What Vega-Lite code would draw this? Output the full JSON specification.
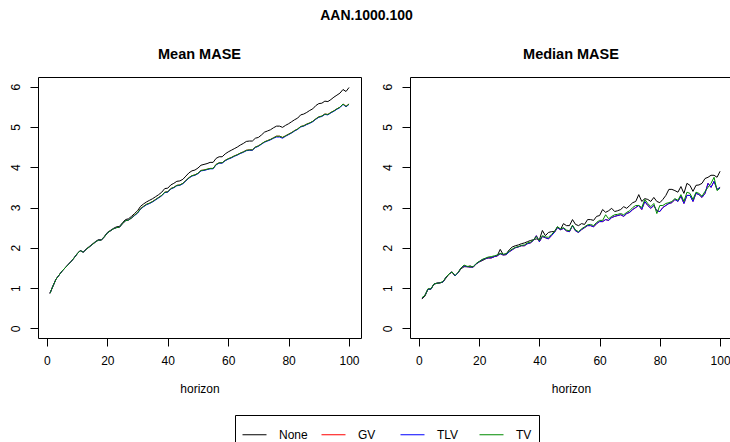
{
"$schema":"https://vega.github.io/schema/vega-lite/v6.json",
"background":"white",
"padding":{"left":0,"top":9,"right":0,"bottom":0},
"title":{"text":"AAN.1000.100","fontSize":14,"fontWeight":"bold","font":"Liberation Sans","anchor":"middle","baseline":"alphabetic","offset":12,"color":"black"},
"config":{
"font":"Liberation Sans",
"view":{"stroke":"black","strokeWidth":1},
"axis":{"domain":false,"grid":false,"ticks":true,"tickColor":"black","tickSize":8,"labelFontSize":12,"labelColor":"black","labelFont":"Liberation Sans","titleFont":"Liberation Sans","titleFontSize":12,"titleFontWeight":"normal","titleColor":"black","labelFlush":false,"labelOverlap":false},
"axisX":{"labelPadding":9,"titlePadding":17,"labelAngle":0,"labelBaseline":"top"},
"axisY":{"labelAngle":270,"labelAlign":"center","labelBaseline":"alphabetic","labelPadding":11,"minExtent":37,"maxExtent":37},
"legend":{"orient":"none","legendX":197,"legendY":338,"direction":"horizontal","columns":4,"symbolType":"stroke","symbolSize":576,"symbolStrokeWidth":1,"labelFontSize":12,"labelFont":"Liberation Sans","labelColor":"black","labelOffset":12,"columnPadding":11,"gridAlign":"all","strokeColor":"black","padding":7,"title":null}
},
"spacing":10,
"resolve":{"scale":{"color":"shared"}},
"datasets":{
"mean":[
{"h":1,"s":"None","v":0.87},{"h":2,"s":"None","v":1.05},{"h":3,"s":"None","v":1.22},{"h":4,"s":"None","v":1.32},{"h":5,"s":"None","v":1.42},{"h":6,"s":"None","v":1.5},{"h":7,"s":"None","v":1.58},{"h":8,"s":"None","v":1.66},{"h":9,"s":"None","v":1.75},{"h":10,"s":"None","v":1.85},
{"h":11,"s":"None","v":1.93},{"h":12,"s":"None","v":1.9},{"h":13,"s":"None","v":1.97},{"h":14,"s":"None","v":2.03},{"h":15,"s":"None","v":2.09},{"h":16,"s":"None","v":2.15},{"h":17,"s":"None","v":2.2},{"h":18,"s":"None","v":2.2},{"h":19,"s":"None","v":2.28},{"h":20,"s":"None","v":2.38},
{"h":21,"s":"None","v":2.43},{"h":22,"s":"None","v":2.48},{"h":23,"s":"None","v":2.52},{"h":24,"s":"None","v":2.53},{"h":25,"s":"None","v":2.62},{"h":26,"s":"None","v":2.7},{"h":27,"s":"None","v":2.72},{"h":28,"s":"None","v":2.78},{"h":29,"s":"None","v":2.85},{"h":30,"s":"None","v":2.92},
{"h":31,"s":"None","v":3.03},{"h":32,"s":"None","v":3.09},{"h":33,"s":"None","v":3.14},{"h":34,"s":"None","v":3.18},{"h":35,"s":"None","v":3.22},{"h":36,"s":"None","v":3.27},{"h":37,"s":"None","v":3.32},{"h":38,"s":"None","v":3.38},{"h":39,"s":"None","v":3.47},{"h":40,"s":"None","v":3.48},
{"h":41,"s":"None","v":3.56},{"h":42,"s":"None","v":3.6},{"h":43,"s":"None","v":3.65},{"h":44,"s":"None","v":3.66},{"h":45,"s":"None","v":3.7},{"h":46,"s":"None","v":3.78},{"h":47,"s":"None","v":3.86},{"h":48,"s":"None","v":3.91},{"h":49,"s":"None","v":3.93},{"h":50,"s":"None","v":3.98},
{"h":51,"s":"None","v":4.05},{"h":52,"s":"None","v":4.07},{"h":53,"s":"None","v":4.09},{"h":54,"s":"None","v":4.12},{"h":55,"s":"None","v":4.12},{"h":56,"s":"None","v":4.22},{"h":57,"s":"None","v":4.26},{"h":58,"s":"None","v":4.26},{"h":59,"s":"None","v":4.33},{"h":60,"s":"None","v":4.38},
{"h":61,"s":"None","v":4.42},{"h":62,"s":"None","v":4.46},{"h":63,"s":"None","v":4.5},{"h":64,"s":"None","v":4.55},{"h":65,"s":"None","v":4.59},{"h":66,"s":"None","v":4.64},{"h":67,"s":"None","v":4.65},{"h":68,"s":"None","v":4.65},{"h":69,"s":"None","v":4.72},{"h":70,"s":"None","v":4.74},
{"h":71,"s":"None","v":4.8},{"h":72,"s":"None","v":4.87},{"h":73,"s":"None","v":4.9},{"h":74,"s":"None","v":4.93},{"h":75,"s":"None","v":4.98},{"h":76,"s":"None","v":5.02},{"h":77,"s":"None","v":5.02},{"h":78,"s":"None","v":4.99},{"h":79,"s":"None","v":5.04},{"h":80,"s":"None","v":5.08},
{"h":81,"s":"None","v":5.13},{"h":82,"s":"None","v":5.18},{"h":83,"s":"None","v":5.22},{"h":84,"s":"None","v":5.3},{"h":85,"s":"None","v":5.32},{"h":86,"s":"None","v":5.36},{"h":87,"s":"None","v":5.41},{"h":88,"s":"None","v":5.45},{"h":89,"s":"None","v":5.53},{"h":90,"s":"None","v":5.58},
{"h":91,"s":"None","v":5.59},{"h":92,"s":"None","v":5.64},{"h":93,"s":"None","v":5.63},{"h":94,"s":"None","v":5.68},{"h":95,"s":"None","v":5.74},{"h":96,"s":"None","v":5.79},{"h":97,"s":"None","v":5.84},{"h":98,"s":"None","v":5.93},{"h":99,"s":"None","v":5.88},{"h":100,"s":"None","v":5.98},
{"h":1,"s":"GV","v":0.87},{"h":2,"s":"GV","v":1.05},{"h":3,"s":"GV","v":1.22},{"h":4,"s":"GV","v":1.32},{"h":5,"s":"GV","v":1.42},{"h":6,"s":"GV","v":1.5},{"h":7,"s":"GV","v":1.58},{"h":8,"s":"GV","v":1.66},{"h":9,"s":"GV","v":1.75},{"h":10,"s":"GV","v":1.85},
{"h":11,"s":"GV","v":1.93},{"h":12,"s":"GV","v":1.89},{"h":13,"s":"GV","v":1.96},{"h":14,"s":"GV","v":2.02},{"h":15,"s":"GV","v":2.08},{"h":16,"s":"GV","v":2.14},{"h":17,"s":"GV","v":2.19},{"h":18,"s":"GV","v":2.19},{"h":19,"s":"GV","v":2.27},{"h":20,"s":"GV","v":2.37},
{"h":21,"s":"GV","v":2.42},{"h":22,"s":"GV","v":2.47},{"h":23,"s":"GV","v":2.5},{"h":24,"s":"GV","v":2.51},{"h":25,"s":"GV","v":2.6},{"h":26,"s":"GV","v":2.67},{"h":27,"s":"GV","v":2.69},{"h":28,"s":"GV","v":2.74},{"h":29,"s":"GV","v":2.81},{"h":30,"s":"GV","v":2.87},
{"h":31,"s":"GV","v":2.97},{"h":32,"s":"GV","v":3.03},{"h":33,"s":"GV","v":3.08},{"h":34,"s":"GV","v":3.11},{"h":35,"s":"GV","v":3.15},{"h":36,"s":"GV","v":3.2},{"h":37,"s":"GV","v":3.25},{"h":38,"s":"GV","v":3.3},{"h":39,"s":"GV","v":3.38},{"h":40,"s":"GV","v":3.39},
{"h":41,"s":"GV","v":3.47},{"h":42,"s":"GV","v":3.5},{"h":43,"s":"GV","v":3.55},{"h":44,"s":"GV","v":3.56},{"h":45,"s":"GV","v":3.6},{"h":46,"s":"GV","v":3.67},{"h":47,"s":"GV","v":3.74},{"h":48,"s":"GV","v":3.79},{"h":49,"s":"GV","v":3.81},{"h":50,"s":"GV","v":3.85},
{"h":51,"s":"GV","v":3.92},{"h":52,"s":"GV","v":3.93},{"h":53,"s":"GV","v":3.95},{"h":54,"s":"GV","v":3.97},{"h":55,"s":"GV","v":3.97},{"h":56,"s":"GV","v":4.07},{"h":57,"s":"GV","v":4.11},{"h":58,"s":"GV","v":4.11},{"h":59,"s":"GV","v":4.17},{"h":60,"s":"GV","v":4.21},
{"h":61,"s":"GV","v":4.24},{"h":62,"s":"GV","v":4.28},{"h":63,"s":"GV","v":4.31},{"h":64,"s":"GV","v":4.35},{"h":65,"s":"GV","v":4.38},{"h":66,"s":"GV","v":4.42},{"h":67,"s":"GV","v":4.43},{"h":68,"s":"GV","v":4.43},{"h":69,"s":"GV","v":4.5},{"h":70,"s":"GV","v":4.53},
{"h":71,"s":"GV","v":4.58},{"h":72,"s":"GV","v":4.63},{"h":73,"s":"GV","v":4.66},{"h":74,"s":"GV","v":4.69},{"h":75,"s":"GV","v":4.73},{"h":76,"s":"GV","v":4.77},{"h":77,"s":"GV","v":4.77},{"h":78,"s":"GV","v":4.74},{"h":79,"s":"GV","v":4.78},{"h":80,"s":"GV","v":4.82},
{"h":81,"s":"GV","v":4.86},{"h":82,"s":"GV","v":4.91},{"h":83,"s":"GV","v":4.95},{"h":84,"s":"GV","v":5.01},{"h":85,"s":"GV","v":5.03},{"h":86,"s":"GV","v":5.07},{"h":87,"s":"GV","v":5.1},{"h":88,"s":"GV","v":5.14},{"h":89,"s":"GV","v":5.2},{"h":90,"s":"GV","v":5.25},
{"h":91,"s":"GV","v":5.27},{"h":92,"s":"GV","v":5.32},{"h":93,"s":"GV","v":5.31},{"h":94,"s":"GV","v":5.36},{"h":95,"s":"GV","v":5.4},{"h":96,"s":"GV","v":5.45},{"h":97,"s":"GV","v":5.49},{"h":98,"s":"GV","v":5.57},{"h":99,"s":"GV","v":5.51},{"h":100,"s":"GV","v":5.57},
{"h":1,"s":"TLV","v":0.87},{"h":2,"s":"TLV","v":1.05},{"h":3,"s":"TLV","v":1.22},{"h":4,"s":"TLV","v":1.32},{"h":5,"s":"TLV","v":1.42},{"h":6,"s":"TLV","v":1.5},{"h":7,"s":"TLV","v":1.58},{"h":8,"s":"TLV","v":1.66},{"h":9,"s":"TLV","v":1.75},{"h":10,"s":"TLV","v":1.85},
{"h":11,"s":"TLV","v":1.93},{"h":12,"s":"TLV","v":1.89},{"h":13,"s":"TLV","v":1.96},{"h":14,"s":"TLV","v":2.02},{"h":15,"s":"TLV","v":2.08},{"h":16,"s":"TLV","v":2.14},{"h":17,"s":"TLV","v":2.19},{"h":18,"s":"TLV","v":2.19},{"h":19,"s":"TLV","v":2.27},{"h":20,"s":"TLV","v":2.37},
{"h":21,"s":"TLV","v":2.42},{"h":22,"s":"TLV","v":2.47},{"h":23,"s":"TLV","v":2.5},{"h":24,"s":"TLV","v":2.51},{"h":25,"s":"TLV","v":2.6},{"h":26,"s":"TLV","v":2.67},{"h":27,"s":"TLV","v":2.69},{"h":28,"s":"TLV","v":2.74},{"h":29,"s":"TLV","v":2.8},{"h":30,"s":"TLV","v":2.86},
{"h":31,"s":"TLV","v":2.96},{"h":32,"s":"TLV","v":3.02},{"h":33,"s":"TLV","v":3.07},{"h":34,"s":"TLV","v":3.1},{"h":35,"s":"TLV","v":3.14},{"h":36,"s":"TLV","v":3.19},{"h":37,"s":"TLV","v":3.24},{"h":38,"s":"TLV","v":3.29},{"h":39,"s":"TLV","v":3.37},{"h":40,"s":"TLV","v":3.38},
{"h":41,"s":"TLV","v":3.46},{"h":42,"s":"TLV","v":3.49},{"h":43,"s":"TLV","v":3.54},{"h":44,"s":"TLV","v":3.55},{"h":45,"s":"TLV","v":3.59},{"h":46,"s":"TLV","v":3.66},{"h":47,"s":"TLV","v":3.73},{"h":48,"s":"TLV","v":3.78},{"h":49,"s":"TLV","v":3.8},{"h":50,"s":"TLV","v":3.84},
{"h":51,"s":"TLV","v":3.91},{"h":52,"s":"TLV","v":3.92},{"h":53,"s":"TLV","v":3.94},{"h":54,"s":"TLV","v":3.96},{"h":55,"s":"TLV","v":3.96},{"h":56,"s":"TLV","v":4.06},{"h":57,"s":"TLV","v":4.1},{"h":58,"s":"TLV","v":4.1},{"h":59,"s":"TLV","v":4.16},{"h":60,"s":"TLV","v":4.2},
{"h":61,"s":"TLV","v":4.23},{"h":62,"s":"TLV","v":4.27},{"h":63,"s":"TLV","v":4.3},{"h":64,"s":"TLV","v":4.34},{"h":65,"s":"TLV","v":4.37},{"h":66,"s":"TLV","v":4.41},{"h":67,"s":"TLV","v":4.42},{"h":68,"s":"TLV","v":4.42},{"h":69,"s":"TLV","v":4.49},{"h":70,"s":"TLV","v":4.52},
{"h":71,"s":"TLV","v":4.57},{"h":72,"s":"TLV","v":4.62},{"h":73,"s":"TLV","v":4.65},{"h":74,"s":"TLV","v":4.68},{"h":75,"s":"TLV","v":4.72},{"h":76,"s":"TLV","v":4.75},{"h":77,"s":"TLV","v":4.75},{"h":78,"s":"TLV","v":4.72},{"h":79,"s":"TLV","v":4.77},{"h":80,"s":"TLV","v":4.81},
{"h":81,"s":"TLV","v":4.85},{"h":82,"s":"TLV","v":4.9},{"h":83,"s":"TLV","v":4.94},{"h":84,"s":"TLV","v":5.0},{"h":85,"s":"TLV","v":5.02},{"h":86,"s":"TLV","v":5.06},{"h":87,"s":"TLV","v":5.09},{"h":88,"s":"TLV","v":5.13},{"h":89,"s":"TLV","v":5.19},{"h":90,"s":"TLV","v":5.24},
{"h":91,"s":"TLV","v":5.26},{"h":92,"s":"TLV","v":5.31},{"h":93,"s":"TLV","v":5.3},{"h":94,"s":"TLV","v":5.35},{"h":95,"s":"TLV","v":5.39},{"h":96,"s":"TLV","v":5.44},{"h":97,"s":"TLV","v":5.48},{"h":98,"s":"TLV","v":5.56},{"h":99,"s":"TLV","v":5.5},{"h":100,"s":"TLV","v":5.56},
{"h":1,"s":"TV","v":0.87},{"h":2,"s":"TV","v":1.05},{"h":3,"s":"TV","v":1.22},{"h":4,"s":"TV","v":1.32},{"h":5,"s":"TV","v":1.42},{"h":6,"s":"TV","v":1.5},{"h":7,"s":"TV","v":1.58},{"h":8,"s":"TV","v":1.66},{"h":9,"s":"TV","v":1.75},{"h":10,"s":"TV","v":1.85},
{"h":11,"s":"TV","v":1.93},{"h":12,"s":"TV","v":1.89},{"h":13,"s":"TV","v":1.96},{"h":14,"s":"TV","v":2.02},{"h":15,"s":"TV","v":2.08},{"h":16,"s":"TV","v":2.14},{"h":17,"s":"TV","v":2.19},{"h":18,"s":"TV","v":2.19},{"h":19,"s":"TV","v":2.27},{"h":20,"s":"TV","v":2.37},
{"h":21,"s":"TV","v":2.42},{"h":22,"s":"TV","v":2.47},{"h":23,"s":"TV","v":2.5},{"h":24,"s":"TV","v":2.51},{"h":25,"s":"TV","v":2.6},{"h":26,"s":"TV","v":2.67},{"h":27,"s":"TV","v":2.69},{"h":28,"s":"TV","v":2.74},{"h":29,"s":"TV","v":2.81},{"h":30,"s":"TV","v":2.87},
{"h":31,"s":"TV","v":2.97},{"h":32,"s":"TV","v":3.03},{"h":33,"s":"TV","v":3.08},{"h":34,"s":"TV","v":3.11},{"h":35,"s":"TV","v":3.15},{"h":36,"s":"TV","v":3.2},{"h":37,"s":"TV","v":3.25},{"h":38,"s":"TV","v":3.3},{"h":39,"s":"TV","v":3.38},{"h":40,"s":"TV","v":3.39},
{"h":41,"s":"TV","v":3.47},{"h":42,"s":"TV","v":3.5},{"h":43,"s":"TV","v":3.55},{"h":44,"s":"TV","v":3.56},{"h":45,"s":"TV","v":3.6},{"h":46,"s":"TV","v":3.67},{"h":47,"s":"TV","v":3.74},{"h":48,"s":"TV","v":3.79},{"h":49,"s":"TV","v":3.81},{"h":50,"s":"TV","v":3.85},
{"h":51,"s":"TV","v":3.92},{"h":52,"s":"TV","v":3.93},{"h":53,"s":"TV","v":3.95},{"h":54,"s":"TV","v":3.97},{"h":55,"s":"TV","v":3.97},{"h":56,"s":"TV","v":4.07},{"h":57,"s":"TV","v":4.11},{"h":58,"s":"TV","v":4.11},{"h":59,"s":"TV","v":4.17},{"h":60,"s":"TV","v":4.21},
{"h":61,"s":"TV","v":4.24},{"h":62,"s":"TV","v":4.28},{"h":63,"s":"TV","v":4.31},{"h":64,"s":"TV","v":4.35},{"h":65,"s":"TV","v":4.38},{"h":66,"s":"TV","v":4.42},{"h":67,"s":"TV","v":4.43},{"h":68,"s":"TV","v":4.43},{"h":69,"s":"TV","v":4.5},{"h":70,"s":"TV","v":4.53},
{"h":71,"s":"TV","v":4.58},{"h":72,"s":"TV","v":4.63},{"h":73,"s":"TV","v":4.66},{"h":74,"s":"TV","v":4.69},{"h":75,"s":"TV","v":4.73},{"h":76,"s":"TV","v":4.77},{"h":77,"s":"TV","v":4.77},{"h":78,"s":"TV","v":4.74},{"h":79,"s":"TV","v":4.78},{"h":80,"s":"TV","v":4.82},
{"h":81,"s":"TV","v":4.86},{"h":82,"s":"TV","v":4.91},{"h":83,"s":"TV","v":4.95},{"h":84,"s":"TV","v":5.01},{"h":85,"s":"TV","v":5.03},{"h":86,"s":"TV","v":5.07},{"h":87,"s":"TV","v":5.1},{"h":88,"s":"TV","v":5.14},{"h":89,"s":"TV","v":5.2},{"h":90,"s":"TV","v":5.25},
{"h":91,"s":"TV","v":5.27},{"h":92,"s":"TV","v":5.32},{"h":93,"s":"TV","v":5.31},{"h":94,"s":"TV","v":5.36},{"h":95,"s":"TV","v":5.4},{"h":96,"s":"TV","v":5.45},{"h":97,"s":"TV","v":5.49},{"h":98,"s":"TV","v":5.57},{"h":99,"s":"TV","v":5.51},{"h":100,"s":"TV","v":5.57}
],
"median":[
{"h":1,"s":"None","v":0.73},{"h":2,"s":"None","v":0.8},{"h":3,"s":"None","v":0.97},{"h":4,"s":"None","v":0.98},{"h":5,"s":"None","v":1.1},{"h":6,"s":"None","v":1.12},{"h":7,"s":"None","v":1.13},{"h":8,"s":"None","v":1.15},{"h":9,"s":"None","v":1.25},{"h":10,"s":"None","v":1.35},
{"h":11,"s":"None","v":1.4},{"h":12,"s":"None","v":1.3},{"h":13,"s":"None","v":1.38},{"h":14,"s":"None","v":1.48},{"h":15,"s":"None","v":1.53},{"h":16,"s":"None","v":1.53},{"h":17,"s":"None","v":1.55},{"h":18,"s":"None","v":1.52},{"h":19,"s":"None","v":1.6},{"h":20,"s":"None","v":1.65},
{"h":21,"s":"None","v":1.68},{"h":22,"s":"None","v":1.72},{"h":23,"s":"None","v":1.75},{"h":24,"s":"None","v":1.75},{"h":25,"s":"None","v":1.78},{"h":26,"s":"None","v":1.8},{"h":27,"s":"None","v":1.96},{"h":28,"s":"None","v":1.83},{"h":29,"s":"None","v":1.85},{"h":30,"s":"None","v":1.95},
{"h":31,"s":"None","v":2.02},{"h":32,"s":"None","v":2.05},{"h":33,"s":"None","v":2.07},{"h":34,"s":"None","v":2.1},{"h":35,"s":"None","v":2.12},{"h":36,"s":"None","v":2.15},{"h":37,"s":"None","v":2.18},{"h":38,"s":"None","v":2.2},{"h":39,"s":"None","v":2.22},{"h":40,"s":"None","v":2.2},
{"h":41,"s":"None","v":2.43},{"h":42,"s":"None","v":2.3},{"h":43,"s":"None","v":2.38},{"h":44,"s":"None","v":2.4},{"h":45,"s":"None","v":2.4},{"h":46,"s":"None","v":2.52},{"h":47,"s":"None","v":2.45},{"h":48,"s":"None","v":2.6},{"h":49,"s":"None","v":2.55},{"h":50,"s":"None","v":2.55},
{"h":51,"s":"None","v":2.7},{"h":52,"s":"None","v":2.58},{"h":53,"s":"None","v":2.55},{"h":54,"s":"None","v":2.6},{"h":55,"s":"None","v":2.58},{"h":56,"s":"None","v":2.7},{"h":57,"s":"None","v":2.7},{"h":58,"s":"None","v":2.68},{"h":59,"s":"None","v":2.78},{"h":60,"s":"None","v":2.8},
{"h":61,"s":"None","v":2.95},{"h":62,"s":"None","v":2.88},{"h":63,"s":"None","v":2.92},{"h":64,"s":"None","v":2.98},{"h":65,"s":"None","v":2.9},{"h":66,"s":"None","v":2.92},{"h":67,"s":"None","v":2.95},{"h":68,"s":"None","v":3.02},{"h":69,"s":"None","v":2.98},{"h":70,"s":"None","v":3.05},
{"h":71,"s":"None","v":3.12},{"h":72,"s":"None","v":3.15},{"h":73,"s":"None","v":3.32},{"h":74,"s":"None","v":3.15},{"h":75,"s":"None","v":3.22},{"h":76,"s":"None","v":3.2},{"h":77,"s":"None","v":3.15},{"h":78,"s":"None","v":3.25},{"h":79,"s":"None","v":3.15},{"h":80,"s":"None","v":3.12},
{"h":81,"s":"None","v":3.2},{"h":82,"s":"None","v":3.3},{"h":83,"s":"None","v":3.45},{"h":84,"s":"None","v":3.45},{"h":85,"s":"None","v":3.42},{"h":86,"s":"None","v":3.38},{"h":87,"s":"None","v":3.52},{"h":88,"s":"None","v":3.35},{"h":89,"s":"None","v":3.6},{"h":90,"s":"None","v":3.55},
{"h":91,"s":"None","v":3.4},{"h":92,"s":"None","v":3.55},{"h":93,"s":"None","v":3.56},{"h":94,"s":"None","v":3.6},{"h":95,"s":"None","v":3.72},{"h":96,"s":"None","v":3.75},{"h":97,"s":"None","v":3.8},{"h":98,"s":"None","v":3.8},{"h":99,"s":"None","v":3.75},{"h":100,"s":"None","v":3.9},
{"h":1,"s":"GV","v":0.75},{"h":2,"s":"GV","v":0.82},{"h":3,"s":"GV","v":0.97},{"h":4,"s":"GV","v":0.97},{"h":5,"s":"GV","v":1.1},{"h":6,"s":"GV","v":1.12},{"h":7,"s":"GV","v":1.13},{"h":8,"s":"GV","v":1.15},{"h":9,"s":"GV","v":1.27},{"h":10,"s":"GV","v":1.35},
{"h":11,"s":"GV","v":1.4},{"h":12,"s":"GV","v":1.3},{"h":13,"s":"GV","v":1.38},{"h":14,"s":"GV","v":1.5},{"h":15,"s":"GV","v":1.55},{"h":16,"s":"GV","v":1.53},{"h":17,"s":"GV","v":1.52},{"h":18,"s":"GV","v":1.52},{"h":19,"s":"GV","v":1.6},{"h":20,"s":"GV","v":1.65},
{"h":21,"s":"GV","v":1.7},{"h":22,"s":"GV","v":1.73},{"h":23,"s":"GV","v":1.75},{"h":24,"s":"GV","v":1.75},{"h":25,"s":"GV","v":1.78},{"h":26,"s":"GV","v":1.8},{"h":27,"s":"GV","v":1.85},{"h":28,"s":"GV","v":1.82},{"h":29,"s":"GV","v":1.83},{"h":30,"s":"GV","v":1.9},
{"h":31,"s":"GV","v":1.95},{"h":32,"s":"GV","v":2.0},{"h":33,"s":"GV","v":2.02},{"h":34,"s":"GV","v":2.05},{"h":35,"s":"GV","v":2.05},{"h":36,"s":"GV","v":2.1},{"h":37,"s":"GV","v":2.12},{"h":38,"s":"GV","v":2.18},{"h":39,"s":"GV","v":2.3},{"h":40,"s":"GV","v":2.15},
{"h":41,"s":"GV","v":2.28},{"h":42,"s":"GV","v":2.25},{"h":43,"s":"GV","v":2.22},{"h":44,"s":"GV","v":2.3},{"h":45,"s":"GV","v":2.38},{"h":46,"s":"GV","v":2.5},{"h":47,"s":"GV","v":2.45},{"h":48,"s":"GV","v":2.48},{"h":49,"s":"GV","v":2.42},{"h":50,"s":"GV","v":2.4},
{"h":51,"s":"GV","v":2.55},{"h":52,"s":"GV","v":2.42},{"h":53,"s":"GV","v":2.38},{"h":54,"s":"GV","v":2.45},{"h":55,"s":"GV","v":2.5},{"h":56,"s":"GV","v":2.55},{"h":57,"s":"GV","v":2.55},{"h":58,"s":"GV","v":2.52},{"h":59,"s":"GV","v":2.6},{"h":60,"s":"GV","v":2.65},
{"h":61,"s":"GV","v":2.65},{"h":62,"s":"GV","v":2.7},{"h":63,"s":"GV","v":2.68},{"h":64,"s":"GV","v":2.75},{"h":65,"s":"GV","v":2.78},{"h":66,"s":"GV","v":2.8},{"h":67,"s":"GV","v":2.82},{"h":68,"s":"GV","v":2.78},{"h":69,"s":"GV","v":2.85},{"h":70,"s":"GV","v":2.88},
{"h":71,"s":"GV","v":2.95},{"h":72,"s":"GV","v":3.0},{"h":73,"s":"GV","v":3.05},{"h":74,"s":"GV","v":2.95},{"h":75,"s":"GV","v":3.15},{"h":76,"s":"GV","v":3.05},{"h":77,"s":"GV","v":2.98},{"h":78,"s":"GV","v":3.05},{"h":79,"s":"GV","v":2.92},{"h":80,"s":"GV","v":2.9},
{"h":81,"s":"GV","v":3.0},{"h":82,"s":"GV","v":3.05},{"h":83,"s":"GV","v":3.1},{"h":84,"s":"GV","v":3.12},{"h":85,"s":"GV","v":3.2},{"h":86,"s":"GV","v":3.15},{"h":87,"s":"GV","v":3.28},{"h":88,"s":"GV","v":3.1},{"h":89,"s":"GV","v":3.3},{"h":90,"s":"GV","v":3.3},
{"h":91,"s":"GV","v":3.15},{"h":92,"s":"GV","v":3.35},{"h":93,"s":"GV","v":3.32},{"h":94,"s":"GV","v":3.25},{"h":95,"s":"GV","v":3.35},{"h":96,"s":"GV","v":3.6},{"h":97,"s":"GV","v":3.5},{"h":98,"s":"GV","v":3.65},{"h":99,"s":"GV","v":3.45},{"h":100,"s":"GV","v":3.5},
{"h":1,"s":"TLV","v":0.75},{"h":2,"s":"TLV","v":0.82},{"h":3,"s":"TLV","v":0.97},{"h":4,"s":"TLV","v":0.97},{"h":5,"s":"TLV","v":1.1},{"h":6,"s":"TLV","v":1.12},{"h":7,"s":"TLV","v":1.13},{"h":8,"s":"TLV","v":1.15},{"h":9,"s":"TLV","v":1.27},{"h":10,"s":"TLV","v":1.35},
{"h":11,"s":"TLV","v":1.4},{"h":12,"s":"TLV","v":1.3},{"h":13,"s":"TLV","v":1.38},{"h":14,"s":"TLV","v":1.5},{"h":15,"s":"TLV","v":1.55},{"h":16,"s":"TLV","v":1.53},{"h":17,"s":"TLV","v":1.52},{"h":18,"s":"TLV","v":1.52},{"h":19,"s":"TLV","v":1.6},{"h":20,"s":"TLV","v":1.65},
{"h":21,"s":"TLV","v":1.7},{"h":22,"s":"TLV","v":1.73},{"h":23,"s":"TLV","v":1.75},{"h":24,"s":"TLV","v":1.75},{"h":25,"s":"TLV","v":1.78},{"h":26,"s":"TLV","v":1.8},{"h":27,"s":"TLV","v":1.85},{"h":28,"s":"TLV","v":1.82},{"h":29,"s":"TLV","v":1.83},{"h":30,"s":"TLV","v":1.9},
{"h":31,"s":"TLV","v":1.95},{"h":32,"s":"TLV","v":2.0},{"h":33,"s":"TLV","v":2.02},{"h":34,"s":"TLV","v":2.05},{"h":35,"s":"TLV","v":2.05},{"h":36,"s":"TLV","v":2.1},{"h":37,"s":"TLV","v":2.12},{"h":38,"s":"TLV","v":2.18},{"h":39,"s":"TLV","v":2.3},{"h":40,"s":"TLV","v":2.15},
{"h":41,"s":"TLV","v":2.28},{"h":42,"s":"TLV","v":2.25},{"h":43,"s":"TLV","v":2.22},{"h":44,"s":"TLV","v":2.3},{"h":45,"s":"TLV","v":2.38},{"h":46,"s":"TLV","v":2.5},{"h":47,"s":"TLV","v":2.45},{"h":48,"s":"TLV","v":2.48},{"h":49,"s":"TLV","v":2.42},{"h":50,"s":"TLV","v":2.4},
{"h":51,"s":"TLV","v":2.55},{"h":52,"s":"TLV","v":2.42},{"h":53,"s":"TLV","v":2.38},{"h":54,"s":"TLV","v":2.45},{"h":55,"s":"TLV","v":2.5},{"h":56,"s":"TLV","v":2.55},{"h":57,"s":"TLV","v":2.55},{"h":58,"s":"TLV","v":2.52},{"h":59,"s":"TLV","v":2.6},{"h":60,"s":"TLV","v":2.65},
{"h":61,"s":"TLV","v":2.65},{"h":62,"s":"TLV","v":2.7},{"h":63,"s":"TLV","v":2.68},{"h":64,"s":"TLV","v":2.75},{"h":65,"s":"TLV","v":2.78},{"h":66,"s":"TLV","v":2.8},{"h":67,"s":"TLV","v":2.82},{"h":68,"s":"TLV","v":2.78},{"h":69,"s":"TLV","v":2.85},{"h":70,"s":"TLV","v":2.88},
{"h":71,"s":"TLV","v":2.95},{"h":72,"s":"TLV","v":3.0},{"h":73,"s":"TLV","v":3.05},{"h":74,"s":"TLV","v":2.95},{"h":75,"s":"TLV","v":3.15},{"h":76,"s":"TLV","v":3.05},{"h":77,"s":"TLV","v":2.98},{"h":78,"s":"TLV","v":3.05},{"h":79,"s":"TLV","v":2.92},{"h":80,"s":"TLV","v":2.9},
{"h":81,"s":"TLV","v":3.0},{"h":82,"s":"TLV","v":3.05},{"h":83,"s":"TLV","v":3.1},{"h":84,"s":"TLV","v":3.12},{"h":85,"s":"TLV","v":3.2},{"h":86,"s":"TLV","v":3.15},{"h":87,"s":"TLV","v":3.28},{"h":88,"s":"TLV","v":3.1},{"h":89,"s":"TLV","v":3.3},{"h":90,"s":"TLV","v":3.3},
{"h":91,"s":"TLV","v":3.15},{"h":92,"s":"TLV","v":3.35},{"h":93,"s":"TLV","v":3.32},{"h":94,"s":"TLV","v":3.25},{"h":95,"s":"TLV","v":3.35},{"h":96,"s":"TLV","v":3.6},{"h":97,"s":"TLV","v":3.5},{"h":98,"s":"TLV","v":3.65},{"h":99,"s":"TLV","v":3.45},{"h":100,"s":"TLV","v":3.5},
{"h":1,"s":"TV","v":0.76},{"h":2,"s":"TV","v":0.82},{"h":3,"s":"TV","v":0.98},{"h":4,"s":"TV","v":0.98},{"h":5,"s":"TV","v":1.1},{"h":6,"s":"TV","v":1.12},{"h":7,"s":"TV","v":1.13},{"h":8,"s":"TV","v":1.16},{"h":9,"s":"TV","v":1.27},{"h":10,"s":"TV","v":1.35},
{"h":11,"s":"TV","v":1.4},{"h":12,"s":"TV","v":1.31},{"h":13,"s":"TV","v":1.39},{"h":14,"s":"TV","v":1.5},{"h":15,"s":"TV","v":1.57},{"h":16,"s":"TV","v":1.54},{"h":17,"s":"TV","v":1.53},{"h":18,"s":"TV","v":1.53},{"h":19,"s":"TV","v":1.61},{"h":20,"s":"TV","v":1.66},
{"h":21,"s":"TV","v":1.71},{"h":22,"s":"TV","v":1.74},{"h":23,"s":"TV","v":1.77},{"h":24,"s":"TV","v":1.78},{"h":25,"s":"TV","v":1.8},{"h":26,"s":"TV","v":1.82},{"h":27,"s":"TV","v":1.86},{"h":28,"s":"TV","v":1.84},{"h":29,"s":"TV","v":1.85},{"h":30,"s":"TV","v":1.92},
{"h":31,"s":"TV","v":1.97},{"h":32,"s":"TV","v":2.01},{"h":33,"s":"TV","v":2.03},{"h":34,"s":"TV","v":2.06},{"h":35,"s":"TV","v":2.07},{"h":36,"s":"TV","v":2.12},{"h":37,"s":"TV","v":2.14},{"h":38,"s":"TV","v":2.19},{"h":39,"s":"TV","v":2.28},{"h":40,"s":"TV","v":2.18},
{"h":41,"s":"TV","v":2.3},{"h":42,"s":"TV","v":2.27},{"h":43,"s":"TV","v":2.26},{"h":44,"s":"TV","v":2.33},{"h":45,"s":"TV","v":2.4},{"h":46,"s":"TV","v":2.52},{"h":47,"s":"TV","v":2.47},{"h":48,"s":"TV","v":2.5},{"h":49,"s":"TV","v":2.44},{"h":50,"s":"TV","v":2.42},
{"h":51,"s":"TV","v":2.56},{"h":52,"s":"TV","v":2.44},{"h":53,"s":"TV","v":2.4},{"h":54,"s":"TV","v":2.47},{"h":55,"s":"TV","v":2.52},{"h":56,"s":"TV","v":2.57},{"h":57,"s":"TV","v":2.58},{"h":58,"s":"TV","v":2.55},{"h":59,"s":"TV","v":2.63},{"h":60,"s":"TV","v":2.68},
{"h":61,"s":"TV","v":2.68},{"h":62,"s":"TV","v":2.82},{"h":63,"s":"TV","v":2.72},{"h":64,"s":"TV","v":2.78},{"h":65,"s":"TV","v":2.82},{"h":66,"s":"TV","v":2.83},{"h":67,"s":"TV","v":2.85},{"h":68,"s":"TV","v":2.82},{"h":69,"s":"TV","v":2.88},{"h":70,"s":"TV","v":2.92},
{"h":71,"s":"TV","v":3.0},{"h":72,"s":"TV","v":3.05},{"h":73,"s":"TV","v":3.05},{"h":74,"s":"TV","v":3.0},{"h":75,"s":"TV","v":3.2},{"h":76,"s":"TV","v":3.1},{"h":77,"s":"TV","v":3.02},{"h":78,"s":"TV","v":3.1},{"h":79,"s":"TV","v":2.85},{"h":80,"s":"TV","v":3.05},
{"h":81,"s":"TV","v":3.05},{"h":82,"s":"TV","v":3.1},{"h":83,"s":"TV","v":3.12},{"h":84,"s":"TV","v":3.15},{"h":85,"s":"TV","v":3.22},{"h":86,"s":"TV","v":3.18},{"h":87,"s":"TV","v":3.32},{"h":88,"s":"TV","v":3.15},{"h":89,"s":"TV","v":3.38},{"h":90,"s":"TV","v":3.35},
{"h":91,"s":"TV","v":3.2},{"h":92,"s":"TV","v":3.38},{"h":93,"s":"TV","v":3.35},{"h":94,"s":"TV","v":3.28},{"h":95,"s":"TV","v":3.4},{"h":96,"s":"TV","v":3.5},{"h":97,"s":"TV","v":3.6},{"h":98,"s":"TV","v":3.75},{"h":99,"s":"TV","v":3.42},{"h":100,"s":"TV","v":3.48}
]
},
"hconcat":[
{"title":{"text":"Mean MASE","fontSize":14.5,"fontWeight":"bold","baseline":"alphabetic","offset":4,"color":"black","anchor":"middle"},
"width":323,"height":261,
"data":{"name":"mean"},
"mark":{"type":"line","strokeWidth":1,"clip":true},
"encoding":{
"x":{"field":"h","type":"quantitative","scale":{"domain":[-2.96,103.96],"nice":false,"zero":false},"axis":{"values":[0,20,40,60,80,100],"title":"horizon"}},
"y":{"field":"v","type":"quantitative","scale":{"domain":[-0.24,6.24],"nice":false,"zero":false},"axis":{"values":[0,1,2,3,4,5,6],"title":null}},
"color":{"field":"s","type":"nominal","scale":{"domain":["None","GV","TLV","TV"],"range":["#000000","#FF0000","#0000FF","#008B00"]}}
}},
{"title":{"text":"Median MASE","fontSize":14.5,"fontWeight":"bold","baseline":"alphabetic","offset":4,"color":"black","anchor":"middle"},
"width":322,"height":261,
"data":{"name":"median"},
"mark":{"type":"line","strokeWidth":1,"clip":true},
"encoding":{
"x":{"field":"h","type":"quantitative","scale":{"domain":[-2.96,103.96],"nice":false,"zero":false},"axis":{"values":[0,20,40,60,80,100],"title":"horizon"}},
"y":{"field":"v","type":"quantitative","scale":{"domain":[-0.24,6.24],"nice":false,"zero":false},"axis":{"values":[0,1,2,3,4,5,6],"title":null}},
"color":{"field":"s","type":"nominal","scale":{"domain":["None","GV","TLV","TV"],"range":["#000000","#FF0000","#0000FF","#008B00"]}}
}}
]
}
